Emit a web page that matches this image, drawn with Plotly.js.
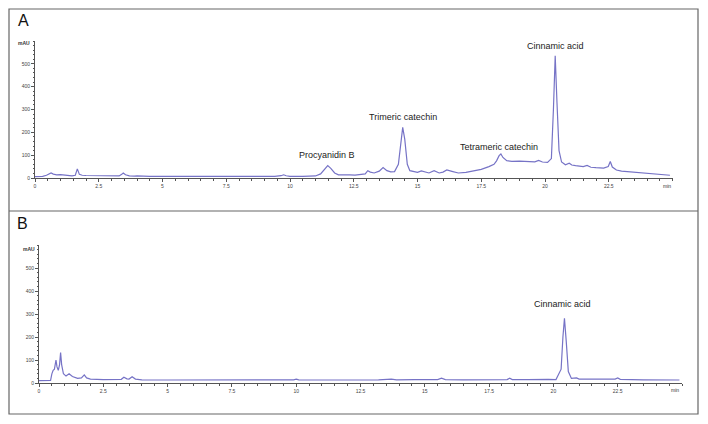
<!DOCTYPE html>
<html>
<head>
<meta charset="utf-8">
<script src="https://cdn.plot.ly/plotly-3.0.1.min.js"></script>
<style>html,body{margin:0;padding:0;background:#fff;}#chart{width:708px;height:424px;}</style>
</head>
<body>
<div id="chart"></div>
<script>
// ---- Data ----
const timeA = [0,0.3,0.45,0.55,0.63,0.72,0.85,1.0,1.15,1.3,1.45,1.58,1.66,1.74,1.85,2.0,2.3,2.7,3.0,3.3,3.4,3.46,3.55,3.7,3.9,4.0,4.5,5.0,5.5,6.0,6.5,7.0,7.5,8.0,8.5,9.0,9.4,9.65,9.75,9.85,10.0,10.5,11.0,11.2,11.35,11.48,11.6,11.75,11.9,12.05,12.2,12.35,12.55,12.75,12.95,13.05,13.15,13.3,13.5,13.65,13.8,13.95,14.1,14.25,14.35,14.42,14.5,14.6,14.7,14.85,15.0,15.15,15.3,15.45,15.65,15.85,16.0,16.15,16.35,16.6,16.9,17.2,17.5,17.8,18.0,18.1,18.2,18.27,18.35,18.5,18.7,19.0,19.3,19.6,19.75,19.9,20.1,20.25,20.33,20.4,20.47,20.55,20.65,20.8,20.95,21.05,21.2,21.5,21.65,21.8,22.0,22.3,22.48,22.56,22.64,22.8,23.0,23.5,24.0,24.5,24.9];
const signalA = [6,7,12,18,22,17,14,15,12,10,9,12,40,16,12,11,10,9,8,9,16,22,14,9,8,9,7,7,6,6,6,6,6,6,6,6,7,10,14,10,7,7,9,18,38,54,42,22,14,14,17,14,13,16,18,32,26,22,30,46,32,27,28,60,170,222,170,60,32,28,25,31,25,22,32,22,26,35,29,22,25,33,38,50,60,75,98,105,90,76,73,74,73,71,77,70,68,85,300,535,330,120,70,58,65,57,54,50,55,47,45,43,50,72,48,35,30,25,21,16,12];

const timeB = [0,0.3,0.45,0.5,0.55,0.6,0.66,0.7,0.75,0.8,0.84,0.88,0.95,1.05,1.17,1.3,1.5,1.65,1.76,1.85,2.0,2.5,3.0,3.2,3.3,3.42,3.5,3.62,3.75,4.0,5,6,7,8,9,9.9,10.0,10.1,11,12,12.9,13.0,13.2,13.7,13.9,14.6,15.0,15.5,15.65,15.8,16.5,17.5,18.2,18.3,18.4,19.0,19.5,19.8,20.1,20.3,20.37,20.43,20.5,20.58,20.7,20.9,21.0,21.5,22.0,22.4,22.5,22.6,23.5,24.9];
const signalB = [10,10,11,40,55,60,100,70,55,80,132,80,40,30,40,28,20,22,35,22,17,15,14,16,25,18,17,27,17,14,13,13,13,13,13,14,17,14,13,13,14,16,14,17,14,15,14,15,21,15,14,14,15,21,15,15,17,16,15,60,200,281,180,50,20,22,17,16,15,17,22,16,14,13];

const xTickVals = [0,2.5,5,7.5,10,12.5,15,17.5,20,22.5];
const xTickText = ["0","2.5","5","7.5","10","12.5","15","17.5","20","22.5"];
const yTickVals = [0,100,200,300,400,500];
const yTickText = ["0","100","200","300","400","500"];

const peakNamesA = ["Procyanidin B","Trimeric catechin","Tetrameric catechin","Cinnamic acid"];
const peakLabelXA = [11.44,14.42,18.2,20.43];
const peakLabelYA = [100,269,137,580];
const peakNamesB = ["Cinnamic acid"];
const peakLabelXB = [20.37];
const peakLabelYB = [343];

// ---- Layout helpers ----
const W = 708, H = 424;
const px = v => v / W;
const py = v => 1 - v / H;
const lineColor = '#7673c6';
const axisColor = '#555';
const tickFont = {family: 'Liberation Sans, Arial, sans-serif', size: 5, color: '#444'};

function xAxis(domain, anchor) {
  return {
    domain: domain, anchor: anchor, range: [0, 25],
    tickmode: 'array', tickvals: xTickVals, ticktext: xTickText,
    showline: true, linecolor: axisColor, linewidth: 1,
    ticks: 'outside', ticklen: 3, tickwidth: 1, tickcolor: axisColor,
    minor: {tickmode: 'linear', tick0: 0, dtick: 0.5, ticklen: 2, tickcolor: axisColor, ticks: 'outside'},
    showgrid: false, zeroline: false, tickfont: tickFont, fixedrange: true
  };
}
function yAxis(domain, anchor) {
  return {
    domain: domain, anchor: anchor, range: [0, 600],
    tickmode: 'array', tickvals: yTickVals, ticktext: yTickText,
    showline: true, linecolor: axisColor, linewidth: 1,
    ticks: 'outside', ticklen: 3, tickwidth: 1, tickcolor: axisColor,
    minor: {tickmode: 'linear', tick0: 0, dtick: 20, ticklen: 1.5, tickcolor: axisColor, ticks: 'outside'},
    showgrid: false, zeroline: false, tickfont: tickFont, fixedrange: true
  };
}

const traces = [
  {x: timeA, y: signalA, type: 'scatter', mode: 'lines', xaxis: 'x', yaxis: 'y',
   line: {color: lineColor, width: 1.2}, hoverinfo: 'skip'},
  {x: timeB, y: signalB, type: 'scatter', mode: 'lines', xaxis: 'x2', yaxis: 'y2',
   line: {color: lineColor, width: 1.2}, hoverinfo: 'skip'}
];

const labelFont = {family: 'Liberation Sans, Arial, sans-serif', size: 9, color: '#222'};
const annotations = [];
peakNamesA.forEach((t, i) => annotations.push({text: t, x: peakLabelXA[i], y: peakLabelYA[i], xref: 'x', yref: 'y', showarrow: false, font: labelFont, xanchor: 'center', yanchor: 'middle'}));
peakNamesB.forEach((t, i) => annotations.push({text: t, x: peakLabelXB[i], y: peakLabelYB[i], xref: 'x2', yref: 'y2', showarrow: false, font: labelFont, xanchor: 'center', yanchor: 'middle'}));

const smallFont = {family: 'Liberation Sans, Arial, sans-serif', size: 5, color: '#333'};
const panelFont = {family: 'Liberation Sans, Arial, sans-serif', size: 16, color: '#111'};
annotations.push(
  {text: 'A', x: px(23), y: py(20.5), xref: 'paper', yref: 'paper', showarrow: false, font: panelFont, xanchor: 'center', yanchor: 'middle'},
  {text: 'B', x: px(22), y: py(223.5), xref: 'paper', yref: 'paper', showarrow: false, font: panelFont, xanchor: 'center', yanchor: 'middle'},
  {text: '<b>mAU</b>', x: px(32), y: py(42.5), xref: 'paper', yref: 'paper', showarrow: false, font: smallFont, xanchor: 'right', yanchor: 'middle'},
  {text: '<b>mAU</b>', x: px(37), y: py(249), xref: 'paper', yref: 'paper', showarrow: false, font: smallFont, xanchor: 'right', yanchor: 'middle'},
  {text: 'min', x: px(667), y: py(185.5), xref: 'paper', yref: 'paper', showarrow: false, font: smallFont, xanchor: 'center', yanchor: 'middle'},
  {text: 'min', x: px(675), y: py(390), xref: 'paper', yref: 'paper', showarrow: false, font: smallFont, xanchor: 'center', yanchor: 'middle'}
);

const frameLine = {color: '#666', width: 1.2};
const shapes = [
  {type: 'rect', xref: 'paper', yref: 'paper', x0: px(9), x1: px(698), y0: py(414), y1: py(9), line: frameLine},
  {type: 'line', xref: 'paper', yref: 'paper', x0: px(9), x1: px(698), y0: py(211), y1: py(211), line: frameLine}
];

const layout = {
  width: W, height: H,
  margin: {l: 0, r: 0, t: 0, b: 0},
  paper_bgcolor: '#fff', plot_bgcolor: 'rgba(0,0,0,0)',
  showlegend: false,
  xaxis: xAxis([px(35), px(672.5)], 'y'),
  yaxis: yAxis([py(178), py(41)], 'x'),
  xaxis2: xAxis([px(39), px(682)], 'y2'),
  yaxis2: yAxis([py(383), py(245)], 'x2'),
  annotations: annotations,
  shapes: shapes,
  font: {family: 'Liberation Sans, Arial, sans-serif'}
};

Plotly.newPlot('chart', traces, layout, {displayModeBar: false, staticPlot: true});
</script>
</body>
</html>
